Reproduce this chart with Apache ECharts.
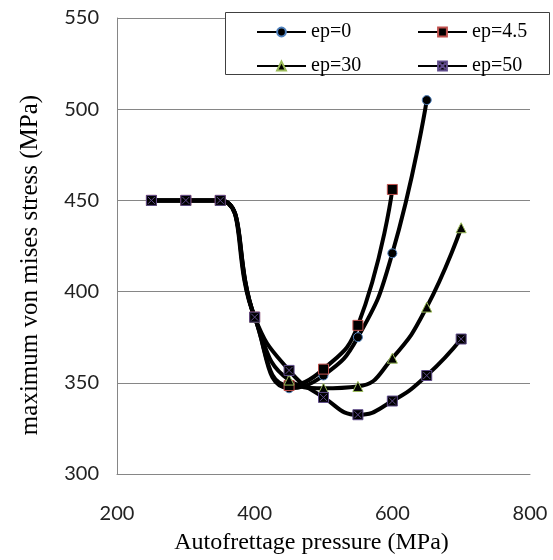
<!DOCTYPE html>
<html>
<head>
<meta charset="utf-8">
<script src="https://cdn.jsdelivr.net/npm/echarts@6/dist/echarts.min.js"></script>
<style>html,body{margin:0;padding:0;background:#fff;}#c{width:553px;height:560px;}</style>
</head>
<body>
<div id="c"></div>
<script>
var pressures = [250, 300, 350, 400, 450, 500, 550, 600, 650, 700];
var ep0  = [450, 450, 450, 386, 347, 354, 375, 421, 505];
var ep45 = [450, 450, 450, 386, 348.5, 357.5, 381.5, 456];
var ep30 = [450, 450, 450, 386, 351.5, 347, 348, 363.5, 391.5, 435];
var ep50 = [450, 450, 450, 386, 356.8, 342, 332.5, 340, 354, 374];
var names = ['ep=0', 'ep=4.5', 'ep=30', 'ep=50'];
var xTicks = [200, 400, 600, 800];
var yTicks = [300, 350, 400, 450, 500, 550];

function pts(vals) { return vals.map(function (v, i) { return [pressures[i], v]; }); }

var markerX = 'path://M0,0L10,0L10,10L0,10Z M1.5,1.5L8.5,8.5 M8.5,1.5L1.5,8.5';
function mk(name, vals, symbol, size, border) {
  return {
    name: name, type: 'line', data: pts(vals), smooth: 0.5,
    symbol: symbol, symbolSize: size, showSymbol: true,
    lineStyle: { color: '#000', width: 4 },
    itemStyle: { color: '#000', borderColor: border, borderWidth: 1 },
    emphasis: { disabled: true }, z: 2
  };
}

var legendText = { fontFamily: 'Liberation Serif', fontSize: 20, lineHeight: 20, color: '#000' };
var chart = echarts.init(document.getElementById('c'), null, { renderer: 'canvas' });
chart.setOption({
  animation: false,
  backgroundColor: '#fff',
  grid: { left: 117, right: 23, top: 18, bottom: 84, containLabel: false },
  xAxis: {
    type: 'value', min: 200, max: 800, interval: 200,
    name: 'Autofrettage pressure (MPa)', nameLocation: 'middle', nameGap: 57,
    nameTextStyle: { fontFamily: 'Liberation Serif', fontSize: 24, color: '#000', padding: [0, 24, 0, 0] },
    axisLine: { show: true, lineStyle: { color: '#868686', width: 1 } },
    axisTick: { show: false },
    splitLine: { show: false },
    axisLabel: { margin: 30, fontFamily: 'Lato', fontSize: 20, color: '#222',
      formatter: function (v) { return xTicks.indexOf(v) >= 0 ? String(v) : ''; } }
  },
  yAxis: {
    type: 'value', min: 300, max: 550, interval: 50,
    name: 'maximum von mises stress (MPa)', nameLocation: 'middle', nameGap: 74,
    nameTextStyle: { fontFamily: 'Liberation Serif', fontSize: 25, color: '#000', padding: [0, 38, 0, 0] },
    axisLine: { show: true, lineStyle: { color: '#868686', width: 1 } },
    axisTick: { show: false },
    splitLine: { show: true, lineStyle: { color: '#868686', width: 1 } },
    axisLabel: { margin: 18, fontFamily: 'Lato', fontSize: 20, color: '#222',
      formatter: function (v) { return yTicks.indexOf(v) >= 0 ? String(v) : ''; } }
  },
  legend: [
    { data: [names[0], names[2]], orient: 'vertical', left: 251, top: 17, itemWidth: 49, itemHeight: 11, itemGap: 14,
      textStyle: legendText, lineStyle: { width: 2 }, selectedMode: false, z: 5 },
    { data: [names[1], names[3]], orient: 'vertical', left: 412, top: 17, itemWidth: 49, itemHeight: 11, itemGap: 14,
      textStyle: legendText, lineStyle: { width: 2 }, selectedMode: false, z: 5 }
  ],
  graphic: [{ type: 'rect', left: 225, top: 12, z: 3, shape: { width: 324, height: 62 },
    style: { fill: '#fff', stroke: '#404040', lineWidth: 1 }, silent: true }],
  series: [
    mk(names[0], ep0, 'circle', 9, '#4f81bd'),
    mk(names[1], ep45, 'rect', 10, '#c0504d'),
    mk(names[2], ep30, 'triangle', 10, '#9bbb59'),
    mk(names[3], ep50, markerX, 10, '#5f4b8b')
  ]
});
</script>
</body>
</html>
